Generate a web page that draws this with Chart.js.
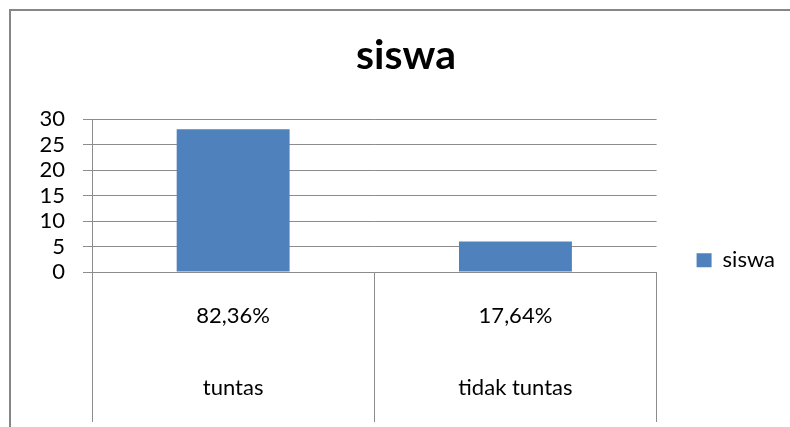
<!DOCTYPE html>
<html>
<head>
<meta charset="utf-8">
<script src="https://cdn.jsdelivr.net/npm/chart.js@4.4.1/dist/chart.umd.min.js"></script>
<style>
  html, body { margin: 0; padding: 0; background: #fff; }
  #wrap { position: relative; width: 790px; height: 427px; overflow: hidden; }
  #frame { position: absolute; left: 9px; top: 9px; width: 900px; height: 600px;
           border: 2px solid #868686; pointer-events: none; }
  canvas { position: absolute; left: 0; top: 0; }
</style>
</head>
<body>
<div id="wrap">
  <canvas id="chart" width="790" height="427"></canvas>
  <div id="frame"></div>
</div>
<script>
const categories = ["tuntas", "tidak tuntas"];
const percentLabels = ["82,36%", "17,64%"];
const seriesName = "siswa";
const siswa = [28, 6];
const yTicks = [0, 5, 10, 15, 20, 25, 30];

const grey = "#8c8c8c";
const fontFamily = "Lato, 'Open Sans', sans-serif";

const ctx = document.getElementById("chart").getContext("2d");
new Chart(ctx, {
  type: "bar",
  data: {
    labels: categories.map((c, i) => [percentLabels[i], c]),
    datasets: [
      {
        label: seriesName,
        data: siswa,
        backgroundColor: "#4f81bd",
        borderWidth: 0,
        categoryPercentage: 1,
        barPercentage: 0.4,
      },
    ],
  },
  options: {
    responsive: false,
    animation: false,
    layout: { padding: { left: 27, right: 5, top: 0, bottom: 0 } },
    plugins: {
      title: {
        display: true,
        text: "siswa",
        color: "#000",
        font: { family: fontFamily, size: 41, weight: "bold", lineHeight: 1 },
        padding: { top: 35, bottom: 43 },
      },
      legend: {
        position: "right",
        // empty legend title only pushes the entry down to where Excel put it
        title: { display: true, text: "", padding: { top: 0, bottom: 79 } },
        labels: {
          color: "#000",
          font: { family: fontFamily, size: 22 },
          boxWidth: 15,
          boxHeight: 14,
          padding: 40,
        },
      },
      tooltip: { enabled: false },
    },
    scales: {
      x: {
        afterFit: (scale) => {
          scale.height = 155;
        },
        grid: {
          drawOnChartArea: false,
          color: grey,
          tickLength: 150,
          tickColor: grey,
        },
        border: { color: grey },
        ticks: {
          color: "#000",
          font: { family: fontFamily, size: 22, lineHeight: "72px" },
          padding: -142,
          maxRotation: 0,
          autoSkip: false,
        },
      },
      y: {
        min: yTicks[0],
        max: yTicks[yTicks.length - 1],
        afterBuildTicks: (scale) => {
          scale.ticks = yTicks.map((v) => ({ value: v }));
        },
        afterFit: (scale) => {
          scale.width = 65;
        },
        grid: { color: grey, tickLength: 9 },
        border: { color: grey },
        ticks: {
          color: "#000",
          font: { family: fontFamily, size: 22 },
          padding: 18,
          autoSkip: false,
        },
      },
    },
  },
});
</script>
</body>
</html>
